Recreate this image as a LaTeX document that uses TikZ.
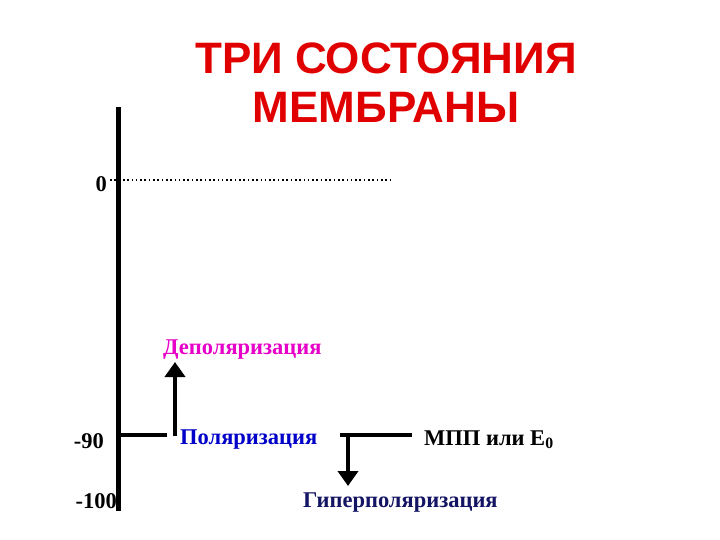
\documentclass[tikz,border=0pt]{standalone}
\usepackage{fontspec}
\setmainfont{Liberation Serif}
\newfontfamily\titlefont{Liberation Sans}
\usetikzlibrary{arrows.meta}
\definecolor{titlered}{RGB}{225,0,0}
\definecolor{depmag}{RGB}{230,0,200}
\definecolor{polblue}{RGB}{0,0,200}
\definecolor{hypnavy}{RGB}{20,20,100}

\begin{document}
\begin{tikzpicture}[x=1pt,y=-1pt]
			\tikzstyle{point}=[inner sep=0pt,minimum size=0pt]
			\tikzstyle{title}=[inner sep=0pt,text=titlered,font=\titlefont\bfseries\fontsize{44}{48}\selectfont]
			\tikzstyle{lbl}=[inner sep=0pt,font=\bfseries\fontsize{22.5}{24}\selectfont]
			\tikzstyle{axis}=[line width=5pt]
			\tikzstyle{lvl}=[line width=4pt]
			\tikzstyle{arrowln}=[line width=4.5pt,-{Triangle[width=20pt,length=15pt]}]
			\useasboundingbox (0,0) rectangle (720,540);
			\node (t1)[title] at (386,58) {ТРИ СОСТОЯНИЯ};
			\node (t2)[title] at (386,107) {МЕМБРАНЫ};
			% axis
			\node (top)[point] at (118,107) {};
			\node (bot)[point] at (118,511) {};
			\draw[axis] (top.center) -- (bot.center);
			% zero level
			\node (z)[lbl,anchor=east] at (107,184) {0};
			\node (za)[point] at (110,180) {};
			\node (zb)[point] at (390,180) {};
			\draw[line width=1.6pt,dash pattern=on 1.6pt off 2.7pt] (za.center) -- (zb.center);
			% resting level
			\node (n90)[lbl,anchor=east] at (104,441) {-90};
			\node (a)[point] at (118,435) {};
			\node (b)[point] at (167,435) {};
			\draw[lvl] (a.center) -- (b.center);
			\node (c)[point] at (175,436) {};
			\node (d)[point] at (175,362) {};
			\draw[arrowln] (c.center) -- (d.center);
			\node (dep)[lbl,anchor=west,text=depmag] at (163,350) {Деполяризация};
			\node (pol)[lbl,anchor=west,text=polblue] at (180,440) {Поляризация};
			\node (e)[point] at (340,435) {};
			\node (f)[point] at (412,435) {};
			\draw[lvl] (e.center) -- (f.center);
			\node (g)[point] at (348,433) {};
			\node (h)[point] at (348,486) {};
			\draw[arrowln] (g.center) -- (h.center);
			\node (mpp)[lbl,anchor=west] at (424,440) {МПП или E\textsubscript{0}};
			\node (n100)[lbl,anchor=east] at (117,501) {-100};
			\node (hyp)[lbl,anchor=west,text=hypnavy] at (303,503) {Гиперполяризация};
		\end{tikzpicture}
\end{document}
